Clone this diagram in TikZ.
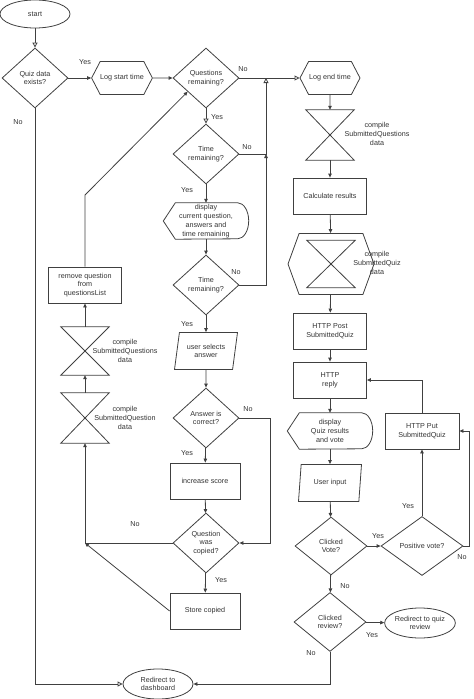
\documentclass[tikz,border=0pt]{standalone}
\usepackage{fontspec}
\setmainfont{Liberation Sans}
\usetikzlibrary{shapes.geometric,shapes.symbols,arrows.meta,calc}
\definecolor{linec}{HTML}{404040}
\definecolor{textc}{HTML}{333333}
\def\drawflow{\draw[flow]}
\def\drawopen{\draw[flowopen]}
\def\decnode{\node[dec]}
\def\procnode{\node[proc]}
\def\hexnode{\node[hex]}
\def\ionode{\node[io]}
\def\termnode{\node[term]}
\def\lblnode{\node[lbl]}
\newcommand\hourglass[1]{\draw[shapeline] (#1.north west) -- (#1.north east) -- (#1.south west) -- (#1.south east) -- cycle;}
\newcommand\displayshape[1]{\draw[shapeline] ([xshift=12pt]#1.north west) -- ([xshift=-11pt]#1.north east) arc[start angle=90,end angle=-90,x radius=11pt,y radius=18pt] -- ([xshift=12pt]#1.south west) -- (#1.west) -- cycle;}

\begin{document}
\begin{tikzpicture}[x=1pt,y=-1pt,
  every node/.style={font=\fontsize{7.2}{8.8}\selectfont,text=textc,align=center},
  shapeline/.style={draw=linec,line width=0.8pt},
  flow/.style={draw=linec,line width=0.8pt,-{Triangle[length=4pt,width=3.5pt]}},
  flowopen/.style={draw=linec,line width=0.8pt,-{Triangle[open,length=5pt,width=5pt,fill=white]}},
  dec/.style={diamond,draw=linec,line width=0.8pt,inner sep=0pt,aspect=1.1,minimum width=66pt,minimum height=60pt},
  proc/.style={rectangle,draw=linec,line width=0.8pt,minimum width=73pt,minimum height=36pt,inner sep=1pt},
  hex/.style={signal,signal to=west and east,signal pointer angle=125,draw=linec,line width=0.8pt,inner sep=0pt,minimum width=60pt,minimum height=33pt},
  io/.style={trapezium,trapezium left angle=73,trapezium right angle=107,trapezium stretches body,draw=linec,line width=0.8pt,minimum width=63pt,minimum height=37pt,inner sep=1pt},
  term/.style={ellipse,draw=linec,line width=0.8pt,minimum width=70pt,minimum height=30pt,inner sep=0pt},
  coll/.style={rectangle,minimum width=48pt,minimum height=48pt,inner sep=0pt},
  disp/.style={rectangle,minimum width=85pt,minimum height=36pt,inner sep=0pt},
  lbl/.style={inner sep=1pt}]
\useasboundingbox (0,0) rectangle (474,699);

% left and middle column
\termnode[minimum height=28pt] (start) at (35,14) {start};
\decnode (quiz) at (35,78) {Quiz data\\exists?};
\hexnode (logstart) at (122,78) {Log start time};
\decnode (qrem) at (206,78) {Questions\\remaining?};
\decnode (trem1) at (206,154) {Time\\remaining?};
\node[disp] (disp1) at (206,221) {display\\current question,\\answers and\\time remaining};
\displayshape{disp1}
\decnode (trem2) at (206,285) {Time\\remaining?};
\ionode (select) at (206,351) {user selects\\answer};
\decnode (correct) at (206,418) {Answer is\\correct?};
\procnode[minimum width=70pt] (score) at (205,481) {increase score};
\decnode (copied) at (206,543) {Question\\was\\copied?};
\procnode[minimum width=70pt] (store) at (205,611) {Store copied};
\procnode (remove) at (85,285) {remove question\\from\\questionsList};
\node[coll] (colQs) at (85,351) {};
\hourglass{colQs}
\node (colQsT) at (125,351) {compile\\SubmittedQuestions\\data};
\node[coll,minimum height=50pt] (colQ) at (85,418) {};
\hourglass{colQ}
\node (colQT) at (125,418) {compile\\SubmittedQuestion\\data};
\termnode (dash) at (158,684) {Redirect to\\dashboard};

% right column
\hexnode (logend) at (330,78) {Log end time};
\node[coll,minimum height=50pt] (colSQ) at (330,135) {};
\hourglass{colSQ}
\node (colSQT) at (377,134) {compile\\SubmittedQuestions\\data};
\procnode (calc) at (330,196) {Calculate results};
\hexnode[minimum width=86pt,minimum height=61pt,signal pointer angle=140] (hex) at (331,264) {};
\node[coll,minimum height=47pt] (hexcol) at (331,264) {};
\hourglass{hexcol}
\node (hexT) at (377,263) {compile\\SubmittedQuiz\\data};
\procnode (post) at (330,331) {HTTP Post\\SubmittedQuiz};
\procnode (reply) at (330,380) {HTTP\\reply};
\node[disp] (disp2) at (330,431) {display\\Quiz results\\and vote};
\displayshape{disp2}
\ionode (input) at (330,483) {User input};
\decnode[minimum width=72pt,minimum height=58pt] (vote) at (331,546) {Clicked\\Vote?};
\decnode[minimum width=82pt,minimum height=59pt] (pos) at (422,546) {Positive vote?};
\procnode[minimum width=74pt] (put) at (422,431) {HTTP Put\\SubmittedQuiz};
\decnode[minimum width=72pt,minimum height=59pt] (review) at (330,622) {Clicked\\review?};
\termnode (quizrev) at (420,623) {Redirect to quiz\\review};

% junctions
\coordinate (jA) at (266,78);
\coordinate (jB) at (266,154);
\coordinate (jC) at (85,543);
\coordinate (jD) at (85,195);

% connectors
\drawopen (start) -- (quiz);
\drawflow (quiz) -- (logstart);
\drawflow (logstart) -- (qrem);
\drawopen (qrem) -- (logend);
\drawopen (qrem) -- (trem1);
\drawflow (trem1) -- (disp1);
\drawflow (disp1) -- (trem2);
\drawflow (trem2) -- (select);
\drawflow (select) -- (correct);
\drawflow (correct) -- (score);
\drawflow (score) -- (copied);
\drawflow (copied) -- (store);
\drawopen (trem1.east) -- (jB) -- (jA);
\drawflow (trem2.east) -| (jB);
\drawflow (correct.east) -- ++(31,0) |- (copied.east);
\drawflow (copied.west) -- (jC) -- (colQ.south);
\drawflow (store.west) -- (jC);
\drawflow (colQ) -- (colQs);
\drawflow (colQs) -- (remove);
\drawflow (remove.north) -- (jD) -- ($(qrem.west)!0.45!(qrem.south)$);
\drawopen (quiz.south) |- (dash.west);
\drawflow (review.south) |- (dash.east);
\drawflow (logend) -- (colSQ);
\drawflow (colSQ) -- (calc);
\drawflow (calc) -- (hex);
\drawflow (hex) -- (post);
\drawflow (post) -- (reply);
\drawflow (reply) -- (disp2);
\drawflow (disp2) -- (input);
\drawflow (input) -- (vote);
\drawflow (vote) -- (pos);
\drawflow (vote) -- (review);
\drawflow (review) -- (quizrev);
\drawflow (pos) -- (put);
\drawflow (put.north) |- (reply.east);
\drawflow (pos.east) -- ++(6,0) |- (put.east);

% labels
\lblnode (yes1) at (85,62) {Yes};
\lblnode (no1) at (18,122) {No};
\lblnode (no2) at (243,69) {No};
\lblnode (yes2) at (217,117) {Yes};
\lblnode (no3) at (247,147) {No};
\lblnode (yes3) at (187,190) {Yes};
\lblnode (no4) at (236,272) {No};
\lblnode (yes4) at (187,324) {Yes};
\lblnode (no5) at (248,409) {No};
\lblnode (yes5) at (187,453) {Yes};
\lblnode (no6) at (135,524) {No};
\lblnode (yes6) at (221,580) {Yes};
\lblnode (yes7) at (378,536) {Yes};
\lblnode (no7) at (462,557) {No};
\lblnode (yes8) at (408,506) {Yes};
\lblnode (no8) at (345,586) {No};
\lblnode (yes9) at (372,635) {Yes};
\lblnode (no9) at (311,653) {No};
\end{tikzpicture}
\end{document}
